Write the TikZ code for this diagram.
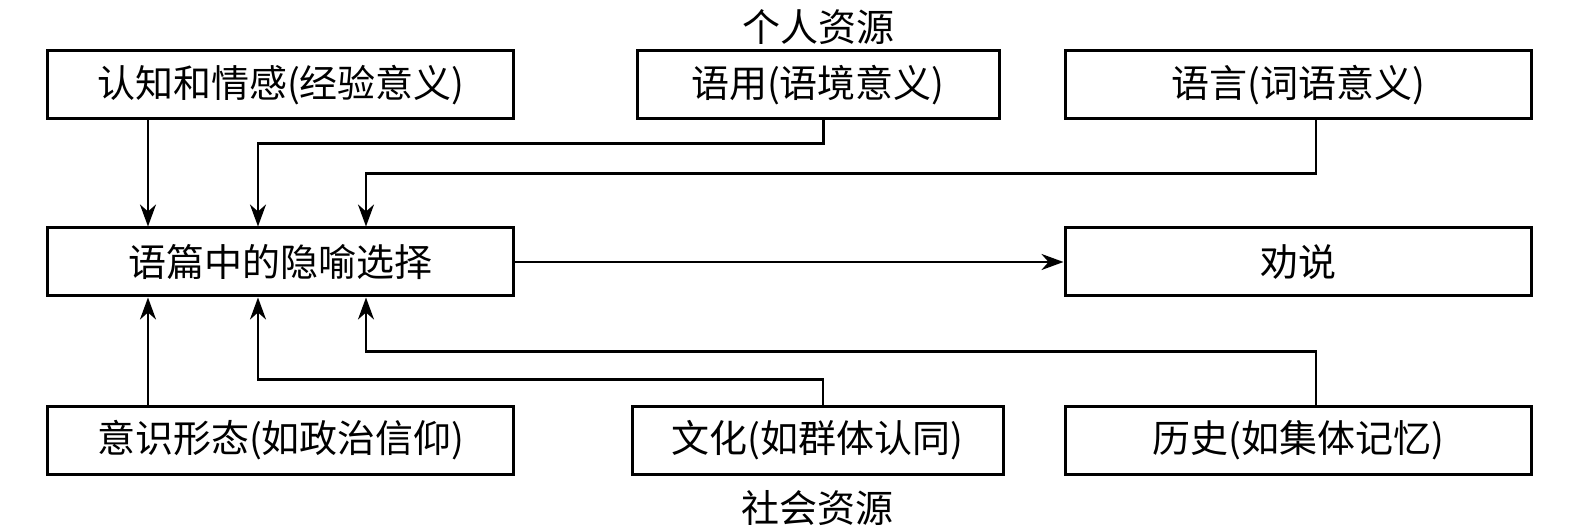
\documentclass[tikz,border=0pt]{standalone}
\usepackage{fontspec}
\newfontfamily\cjk{Noto Sans CJK SC}
\usetikzlibrary{arrows.meta, positioning, calc}

\begin{document}
\begin{tikzpicture}[
  font=\cjk\fontsize{19}{22}\selectfont,
  box/.style={draw, line width=1.5pt, minimum width=233pt, minimum height=34pt,
              inner sep=0pt, align=center},
  midbox/.style={box, minimum width=181pt},
  lbl/.style={inner sep=1pt},
  ar/.style={-{Stealth[length=11pt, width=8pt, inset=3.5pt]}, line width=1.3pt}
]
\useasboundingbox (-140.5pt,-134pt) rectangle (645pt,131pt);

% centre row
\node[box] (meta) {语篇中的隐喻选择};
\node[box, right=274pt of meta] (persuade) {劝说};

% personal resources
\node[box, above=53pt of meta] (cog) {认知和情感(经验意义)};
\node[midbox, right=60pt of cog] (prag) {语用(语境意义)};
\node[box, above=53pt of persuade] (lang) {语言(词语意义)};
\node[lbl, above=1pt of prag] (personal) {个人资源};

% social resources
\node[box, below=53.5pt of meta] (ideo) {意识形态(如政治信仰)};
\node[midbox, right=57.5pt of ideo, minimum width=185.5pt] (cult) {文化(如群体认同)};
\node[box, below=53.5pt of persuade] (hist) {历史(如集体记忆)};
\node[lbl, below=6.5pt of cult] (social) {社会资源};

\draw[ar] ([xshift=-66.5pt]cog.south) -- ([xshift=-66.5pt]meta.north);
\draw[ar] ([xshift=2.75pt]prag.south) -- ++(0,-11.5pt) -| ([xshift=-11.5pt]meta.north);
\draw[ar] ([xshift=9pt]lang.south) -- ++(0,-26.5pt) -| ([xshift=42.5pt]meta.north);
\draw[ar] (meta) -- (persuade);
\draw[ar] ([xshift=-66.5pt]ideo.north) -- ([xshift=-66.5pt]meta.south);
\draw[ar] ([xshift=2.75pt]cult.north) -- ++(0,12.5pt) -| ([xshift=-11.5pt]meta.south);
\draw[ar] ([xshift=9pt]hist.north) -- ++(0,26.5pt) -| ([xshift=42.5pt]meta.south);
\end{tikzpicture}
\end{document}
